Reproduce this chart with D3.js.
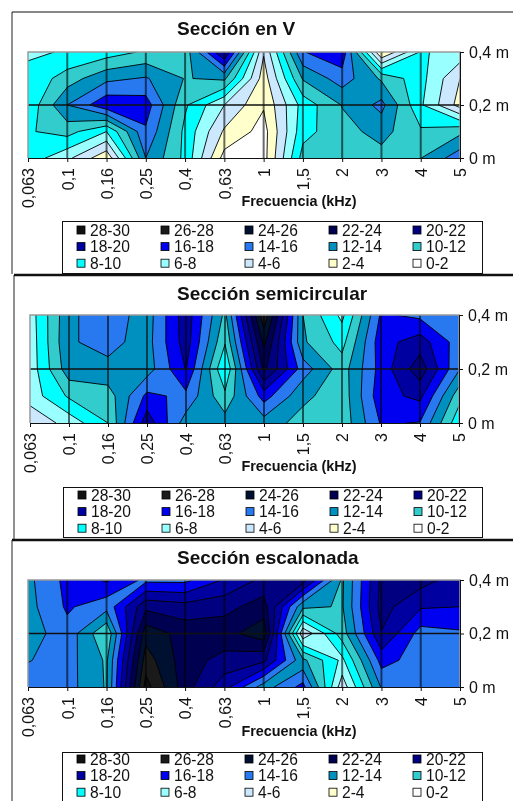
<!DOCTYPE html>
<html>
<head>
<meta charset="utf-8">
<script src="https://d3js.org/d3.v7.min.js"></script>
<style>
  html, body { margin: 0; padding: 0; background: #fff; }
  svg { display: block; filter: blur(0.35px); }
  text { font-family: "Liberation Sans", Arial, sans-serif; fill: #111; }
</style>
</head>
<body>
<div id="chart"></div>
<script>
// Frequency bands (kHz) and measuring heights
var frecuencias = ['0,063', '0,1', '0,16', '0,25', '0,4', '0,63', '1', '1,5', '2', '3', '4', '5'];
var alturas = [0.4, 0.3, 0.2, 0.1, 0];
var alturasEje = [0.4, 0.2, 0];

// Values, one row per height
var seccionV04 = [7.8, 8.1, 9, 10.3, 10.9, 20.2, 4.2, 15.9, 17.5, 1.8, 8.2, 7.3];
var seccionV03 = [8.4, 11, 13.5, 14.2, 11.9, 12.4, 3, 12.2, 15, 11.7, 8.7, 4];
var seccionV02 = [8.5, 14, 17.5, 17, 10.3, 6, 2.2, 8.8, 12.1, 14.6, 8.3, 3.2];
var seccionV01 = [9.8, 10.8, 8, 15.7, 9.5, 3.7, 1.2, 9.3, 11.3, 12.7, 10.3, 11.5];
var seccionV00 = [9.2, 6.5, 2.5, 14, 9.5, 1.2, 1.2, 10.8, 11.3, 11.3, 11.95, 15.2];

var semicircular04 = [7, 13.6, 15.2, 13, 19.2, 11.5, 27.5, 12, 7.5, 16.3, 15.5, 15];
var semicircular03 = [6.8, 13.8, 14.6, 13.2, 19, 10.2, 24.5, 12.3, 9.3, 17.2, 19, 15];
var semicircular02 = [6.8, 13.2, 13.5, 13, 18.1, 8, 22.5, 15, 11, 16.8, 21.2, 14.2];
var semicircular01 = [6.9, 10.3, 11, 16.5, 15.5, 10.5, 16.9, 12.5, 10.8, 17.3, 18.5, 10.8];
var semicircular00 = [4.4, 6.8, 10, 19.3, 13, 12.9, 13.1, 11.2, 10.7, 16.2, 15.9, 8.6];

var escalonada04 = [13.5, 16.6, 18.3, 15.5, 15.5, 18.2, 20.5, 21, 11.7, 20.5, 20.8, 19];
var escalonada03 = [13.3, 16.3, 14.7, 21.5, 20.8, 21.3, 23, 12.5, 11.8, 20.8, 18.2, 18];
var escalonada02 = [12.9, 15.3, 10.2, 25.2, 23.2, 23.3, 25.2, 4.4, 11, 19.9, 15.2, 15.7];
var escalonada01 = [13.9, 14.8, 11.7, 27, 22.9, 21.3, 20.5, 12.5, 7.5, 16.8, 15, 15];
var escalonada00 = [15, 14.8, 11.8, 28.8, 22.9, 18.8, 13, 16.7, 4.8, 14.2, 15, 15];

// Legend order as in the picture, highest band first
var bandas = ['28-30', '26-28', '24-26', '22-24', '20-22', '18-20', '16-18', '14-16', '12-14', '10-12', '8-10', '6-8', '4-6', '2-4', '0-2'];
var umbrales = [28, 26, 24, 22, 20, 18, 16, 14, 12, 10, 8, 6, 4, 2, 0];
var colores = ['#111111', '#1a1a1a', '#001030', '#000050', '#000080', '#0000a0', '#0000f0', '#2878f0', '#0090c0', '#33cccc', '#00ffff', '#99ffff', '#cce8ff', '#ffffcc', '#ffffff'];

var svg = d3.select('#chart').append('svg')
    .attr('width', 513)
    .attr('height', 801);

svg.append('rect').attr('width', 513).attr('height', 801).attr('fill', '#fff');

// outer frames of the three pasted charts
var frames = [
    { x: 12, y: 12, h: 262 },
    { x: 14, y: 275, h: 265 },
    { x: 12, y: 540, h: 261 }
];
frames.forEach(function (f, i) {
    svg.append('line').attr('x1', f.x).attr('x2', f.x).attr('y1', f.y).attr('y2', f.y + f.h)
        .attr('stroke', '#222').attr('stroke-width', 1);
    svg.append('line').attr('x1', f.x).attr('x2', 513).attr('y1', f.y).attr('y2', f.y)
        .attr('stroke', '#111').attr('stroke-width', i === 0 ? 1 : 2.5);
});

drawChart({
    id: 'a', title: 'Sección en V',
    rows: [seccionV04, seccionV03, seccionV02, seccionV01, seccionV00],
    left: 28, right: 460, top: 52, bottom: 158, titleY: 35, axisY: 206,
    legend: { x: 62, y: 221, w: 420, h: 52, first: 9 }
});
drawChart({
    id: 'b', title: 'Sección semicircular',
    rows: [semicircular04, semicircular03, semicircular02, semicircular01, semicircular00],
    left: 30, right: 459, top: 315, bottom: 423, titleY: 300, axisY: 471,
    legend: { x: 63, y: 487, w: 419, h: 50, first: 8 }
});
drawChart({
    id: 'c', title: 'Sección escalonada',
    rows: [escalonada04, escalonada03, escalonada02, escalonada01, escalonada00],
    left: 28, right: 460, top: 580, bottom: 687, titleY: 564, axisY: 736,
    legend: { x: 62, y: 752, w: 420, h: 49, first: 7 }
});

function drawChart(o) {
    var g = svg.append('g');
    var x = d3.scalePoint().domain(frecuencias).range([o.left, o.right]);
    var y = d3.scaleLinear().domain([0, 0.4]).range([o.bottom, o.top]);

    // d3.contours puts value i at coordinate i + 0.5
    var cx = d3.scaleLinear().domain([0.5, frecuencias.length - 0.5]).range([o.left, o.right]);
    var cy = d3.scaleLinear().domain([0.5, alturas.length - 0.5]).range([y(alturas[0]), y(alturas[alturas.length - 1])]);
    var path = d3.geoPath(d3.geoTransform({
        point: function (px, py) { this.stream.point(cx(px), cy(py)); }
    }));

    g.append('clipPath').attr('id', 'clip-' + o.id).append('rect')
        .attr('x', o.left).attr('y', o.top)
        .attr('width', o.right - o.left).attr('height', o.bottom - o.top);

    var plot = g.append('g').attr('clip-path', 'url(#clip-' + o.id + ')');
    plot.append('rect')
        .attr('x', o.left).attr('y', o.top)
        .attr('width', o.right - o.left).attr('height', o.bottom - o.top)
        .attr('fill', colores[colores.length - 1]);

    var valores = d3.merge(o.rows);
    var contornos = d3.contours()
        .size([frecuencias.length, alturas.length])
        .thresholds(umbrales.slice(0, -1).reverse())(valores);

    plot.selectAll('path.banda').data(contornos).enter().append('path')
        .attr('class', 'banda')
        .attr('d', path)
        .attr('fill', function (d) { return colores[umbrales.indexOf(d.value)]; })
        .attr('stroke', '#000')
        .attr('stroke-width', 0.9);

    // grid, multiplied so it goes grey over the pale bands and dark over the blue ones
    g.append('g').selectAll('line').data(frecuencias.slice(1, -1)).enter().append('line')
        .attr('x1', function (d) { return x(d); }).attr('x2', function (d) { return x(d); })
        .attr('y1', o.top).attr('y2', o.bottom)
        .attr('stroke', '#6a6a6a').attr('stroke-width', 2)
        .style('mix-blend-mode', 'multiply');
    g.append('line')
        .attr('x1', o.left).attr('x2', o.right)
        .attr('y1', y(0.2)).attr('y2', y(0.2))
        .attr('stroke', '#111').attr('stroke-width', 1.5);

    // plot frame, grey on top and left
    g.append('path')
        .attr('d', 'M' + o.left + ',' + o.bottom + 'V' + o.top + 'H' + o.right + 'V' + o.bottom)
        .attr('fill', 'none').attr('stroke', '#999').attr('stroke-width', 1.5);

    var axisX = g.append('g')
        .attr('transform', 'translate(0,' + o.bottom + ')')
        .call(d3.axisBottom(x).tickSize(4).tickPadding(6));
    axisX.selectAll('text')
        .attr('transform', 'rotate(-90)')
        .attr('x', -10).attr('y', 0).attr('dy', '0.36em')
        .attr('text-anchor', 'end')
        .style('font-size', '16px')
        .style('font-family', '"Liberation Sans", Arial, sans-serif');

    var axisY = g.append('g')
        .attr('transform', 'translate(' + o.right + ',0)')
        .call(d3.axisRight(y).tickValues(alturasEje).tickSize(4).tickPadding(5)
            .tickFormat(function (d) { return String(d).replace('.', ',') + ' m'; }));
    axisY.selectAll('text')
        .style('font-size', '16px')
        .style('font-family', '"Liberation Sans", Arial, sans-serif');
    [axisX, axisY].forEach(function (a) {
        a.select('.domain').attr('stroke', '#111');
        a.selectAll('.tick line').attr('stroke', '#111');
    });

    g.append('text')
        .attr('x', 177).attr('y', o.titleY)
        .attr('font-size', 19).attr('font-weight', 700)
        .text(o.title);
    g.append('text')
        .attr('x', 299).attr('y', o.axisY)
        .attr('text-anchor', 'middle')
        .attr('font-size', 14.4).attr('font-weight', 700)
        .text('Frecuencia (kHz)');

    // legend: five columns, three rows
    var lg = g.append('g').attr('transform', 'translate(' + o.legend.x + ',' + o.legend.y + ')');
    lg.append('rect')
        .attr('x', 0.5).attr('y', 0.5)
        .attr('width', o.legend.w).attr('height', o.legend.h)
        .attr('fill', '#fff').attr('stroke', '#111');
    var item = lg.selectAll('g').data(bandas).enter().append('g')
        .attr('transform', function (d, i) {
            return 'translate(' + (15 + (i % 5) * 84) + ',' + (o.legend.first + Math.floor(i / 5) * 16.6) + ')';
        });
    item.append('rect')
        .attr('y', -4)
        .attr('width', 8).attr('height', 8)
        .attr('fill', function (d, i) { return colores[i]; })
        .attr('stroke', '#000').attr('stroke-width', 0.8);
    item.append('text')
        .attr('x', 13).attr('y', 0).attr('dy', '0.36em')
        .attr('font-size', 15.6)
        .text(function (d) { return d; });
}
</script>
</body>
</html>
